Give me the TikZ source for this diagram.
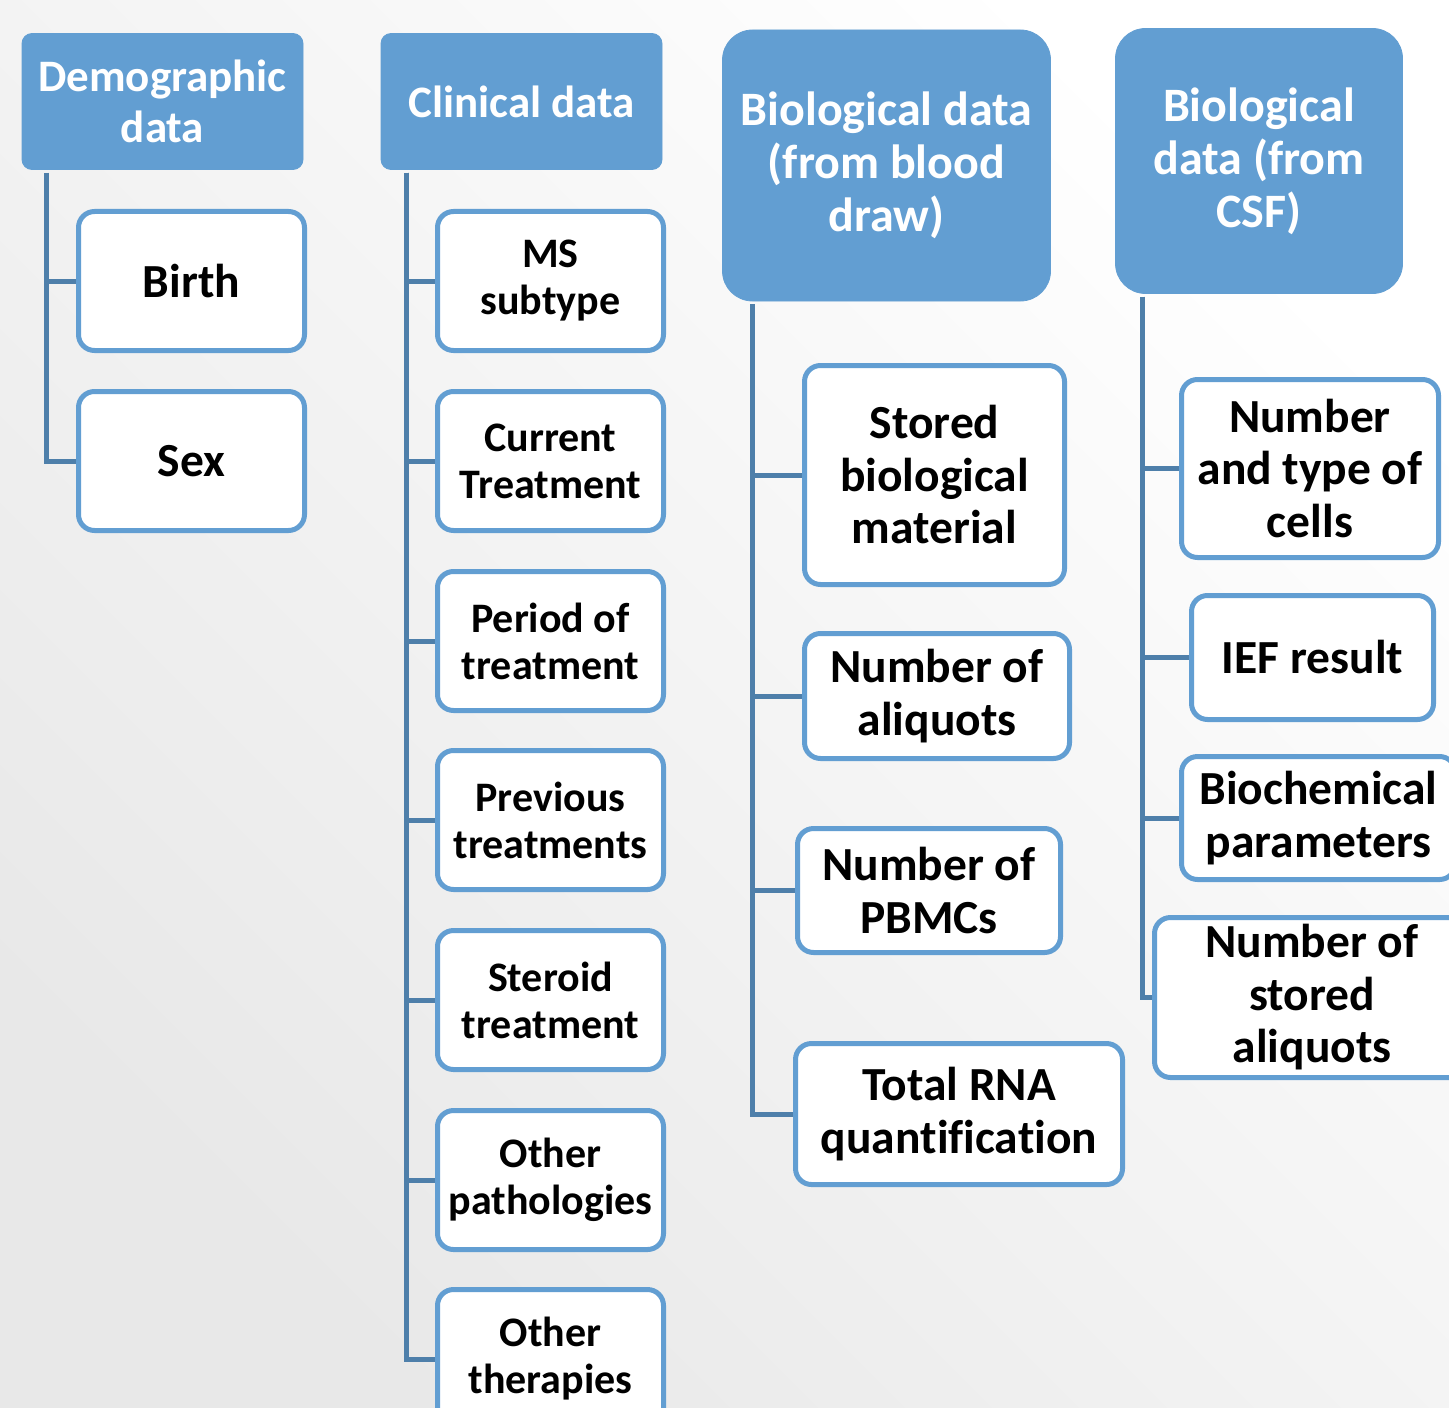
\documentclass[tikz,border=0pt]{standalone}
\usepackage{fontspec}
\setmainfont{Carlito}[Ligatures=NoCommon]
\definecolor{hdrblue}{RGB}{98,158,210}
\definecolor{linkblue}{RGB}{78,127,170}
\definecolor{bggray}{RGB}{232,232,232}
\begin{document}
\begin{tikzpicture}[x=0.5pt, y=-0.5pt, line join=miter,
  head/.style={fill=hdrblue, draw=hdrblue, text=white, align=center, inner sep=0pt,
    rounded corners=5pt, font=\bfseries\fontsize{22.5}{25.5}\selectfont},
  bighead/.style={head, rounded corners=15pt, font=\bfseries\fontsize{24}{26.5}\selectfont},
  leaf/.style={draw=hdrblue, line width=2.5pt, fill=white, align=center, inner sep=0pt,
    rounded corners=8pt, font=\bfseries\fontsize{21}{23.5}\selectfont},
  bigleaf/.style={leaf, font=\bfseries\fontsize{23.75}{26.25}\selectfont},
  trunk/.style={draw=linkblue, line width=2.5pt}]
	\useasboundingbox (0,0) rectangle (1449,1407);
	\clip (0,0) rectangle (1449,1407);
	\shade[top color=white, middle color=white, bottom color=bggray, shading angle=-45] (0,0) rectangle (1449,1407);

	% demographic data
	\node[head, minimum width=140.5pt, minimum height=68pt] (dem) at (162.5,101.5) {Demographic\\data};
	\node[bigleaf, minimum width=113pt, minimum height=69.5pt] (birth) at (191.5,281) {Birth};
	\node[bigleaf, minimum width=113pt, minimum height=69.5pt] (sex) at (191.5,461) {Sex};
	\foreach \c in {birth,sex}
		\draw[trunk] ([xshift=12.5pt,yshift=-1.5pt]dem.south west) |- (\c.west);

	% clinical data
	\node[head, minimum width=140.5pt, minimum height=68pt] (clin) at (521.5,101.5) {Clinical data};
	\node[leaf, minimum width=113pt, minimum height=69.5pt] (ms) at (550.5,281) {MS\\subtype};
	\node[leaf, minimum width=113pt, minimum height=69.5pt] (curr) at (550.5,461) {Current\\Treatment};
	\node[leaf, minimum width=113pt, minimum height=69.5pt] (period) at (550.5,641) {Period of\\treatment};
	\node[leaf, minimum width=113pt, minimum height=69.5pt] (prev) at (550.5,820) {Previous\\treatments};
	\node[leaf, minimum width=113pt, minimum height=69.5pt] (ster) at (550.5,1000) {Steroid\\treatment};
	\node[leaf, minimum width=113pt, minimum height=69.5pt] (path) at (550.5,1180) {Other\\pathologies};
	\node[leaf, minimum width=113pt, minimum height=69.5pt] (ther) at (550.5,1359) {Other\\therapies};
	\foreach \c in {ms,curr,period,prev,ster,path,ther}
		\draw[trunk] ([xshift=13pt,yshift=-1.5pt]clin.south west) |- (\c.west);

	% biological data, blood
	\node[bighead, minimum width=164pt, minimum height=135.5pt] (blood) at (886.5,165.5) {Biological data\\(from blood\\draw)};
	\node[bigleaf, minimum width=130pt, minimum height=109.5pt] (stored) at (934.5,475) {Stored\\biological\\material};
	\node[bigleaf, minimum width=132.5pt, minimum height=62.5pt] (aliq) at (937,696) {Number of\\aliquots};
	\node[bigleaf, minimum width=131.5pt, minimum height=62pt] (pbmc) at (929,890.5) {Number of\\PBMCs};
	\node[bigleaf, minimum width=163.5pt, minimum height=70.5pt] (rna) at (959,1114) {Total RNA\\quantification};
	\foreach \c in {stored,aliq,pbmc,rna}
		\draw[trunk] ([xshift=15pt,yshift=-1.5pt]blood.south west) |- (\c.west);

	% biological data, csf
	\node[bighead, minimum width=143.5pt, minimum height=132.5pt] (csf) at (1259,161) {Biological\\data (from\\CSF)};
	\node[bigleaf, minimum width=128.5pt, minimum height=89pt] (cells) at (1310,468.5) {Number\\and type of\\cells};
	\node[bigleaf, minimum width=121pt, minimum height=62pt] (ief) at (1312.5,657.5) {IEF result};
	\node[bigleaf, minimum width=137pt, minimum height=61.5pt] (biochem) at (1318.5,818) {Biochemical\\parameters};
	\node[bigleaf, minimum width=157.5pt, minimum height=80pt] (saliq) at (1312,997.5) {Number of\\stored\\aliquots};
	\foreach \c in {cells,ief,biochem,saliq}
		\draw[trunk] ([xshift=13.5pt,yshift=-1.5pt]csf.south west) |- (\c.west);
\end{tikzpicture}
\end{document}
